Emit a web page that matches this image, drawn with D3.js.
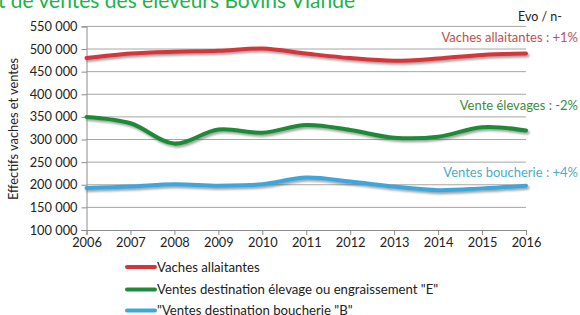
<!DOCTYPE html>
<html>
<head>
<meta charset="utf-8">
<script src="https://cdn.jsdelivr.net/npm/d3@7"></script>
<style>
  body { margin: 0; background: #fff; }
  svg { display: block; font-family: Lato, "Open Sans", sans-serif; }
</style>
</head>
<body>
<svg id="chart"></svg>
<script>
/* Effectifs vaches allaitantes et ventes, 2006-2016 */

const width = 580, height = 315;

const years = [2006, 2007, 2008, 2009, 2010, 2011, 2012, 2013, 2014, 2015, 2016];
const vaches   = [480000, 490000, 494000, 496000, 501000, 490000, 480000, 474000, 479000, 487000, 490000];
const elevage  = [350000, 336000, 291000, 322000, 315000, 332000, 321000, 304000, 306000, 327000, 320000];
const boucherie= [193000, 196000, 201000, 198000, 201000, 216000, 207000, 196000, 188000, 192000, 198000];
const yTicks = [100000, 150000, 200000, 250000, 300000, 350000, 400000, 450000, 500000, 550000];

const seriesNames = ["Vaches allaitantes",
  "Ventes destination élevage ou engraissement \"E\"",
  "\"Ventes destination boucherie \"B\""];
const seriesColors = ["#d6343a", "#1f8b38", "#3ba7dc"];
const notes = ["Vaches allaitantes : +1%", "Vente élevages : -2%", "Ventes boucherie : +4%"];
const noteColors = ["#c0504d", "#3d8b3d", "#4bacc6"];

const series = [vaches, elevage, boucherie];

const svg = d3.select("#chart").attr("width", width).attr("height", height);

// drop shadow under the curves
const defs = svg.append("defs");
const f = defs.append("filter").attr("id", "shadow")
  .attr("x", "-5%").attr("y", "-50%").attr("width", "110%").attr("height", "200%");
f.append("feDropShadow").attr("dx", 1.5).attr("dy", 2).attr("stdDeviation", 1.3)
  .attr("flood-color", "#555").attr("flood-opacity", 0.55);

const x = d3.scaleLinear().domain([2006, 2016]).range([86.5, 526]);
const y = d3.scaleLinear().domain([100000, 550000]).range([230, 26.4]);

const fmt = v => d3.format(",")(v).replace(/,/g, " ");

// title (cut off at the top, as in the source image)
svg.append("text")
  .attr("x", 355).attr("y", 8)
  .attr("text-anchor", "end")
  .attr("fill", "#22b24c")
  .style("font-size", "21px")
  .text("Evolution des effectifs et de ventes des éleveurs Bovins Viande");

// gridlines
svg.append("g").selectAll("line").data(yTicks.slice(1)).join("line")
  .attr("x1", x(2006)).attr("x2", x(2016))
  .attr("y1", d => y(d)).attr("y2", d => y(d))
  .attr("stroke", "#a6a6a6").attr("stroke-width", 1);

// y axis
const yAxis = svg.append("g").attr("transform", `translate(${x(2006)},0)`)
  .call(d3.axisLeft(y).tickValues(yTicks).tickFormat(fmt).tickSize(5).tickPadding(4));
yAxis.select(".domain").attr("stroke", "#8c8c8c");
yAxis.selectAll(".tick line").attr("stroke", "#8c8c8c");
yAxis.selectAll("text").attr("fill", "#222").style("font-size", "12.8px")
  .style("font-family", "Lato, sans-serif");

// x axis
const xAxis = svg.append("g").attr("transform", `translate(0,${y(100000)})`)
  .call(d3.axisBottom(x).tickValues(years).tickFormat(d3.format("d")).tickSize(5).tickPadding(3));
xAxis.select(".domain").attr("stroke", "#8c8c8c");
xAxis.selectAll(".tick line").attr("stroke", "#8c8c8c");
xAxis.selectAll("text").attr("fill", "#222").style("font-size", "12.8px")
  .style("font-family", "Lato, sans-serif");

// y axis title
svg.append("text")
  .attr("transform", "translate(18,129) rotate(-90)")
  .attr("text-anchor", "middle")
  .attr("fill", "#222")
  .style("font-size", "12.8px")
  .text("Effectifs vaches et ventes");

// curves
const line = d3.line()
  .x((d, i) => x(years[i]))
  .y(d => y(d))
  .curve(d3.curveCatmullRom.alpha(0.5));

svg.append("g").selectAll("path").data(series).join("path")
  .attr("d", line)
  .attr("fill", "none")
  .attr("stroke", (d, i) => seriesColors[i])
  .attr("stroke-width", 4)
  .attr("stroke-linecap", "round")
  .attr("filter", "url(#shadow)");

// annotations
svg.append("text").attr("x", 562).attr("y", 21).attr("text-anchor", "end")
  .attr("fill", "#222").style("font-size", "12.5px").text("Evo / n-");
const noteY = [42, 110, 177];
svg.append("g").selectAll("text").data(notes).join("text")
  .attr("x", 578).attr("y", (d, i) => noteY[i])
  .attr("text-anchor", "end")
  .attr("fill", (d, i) => noteColors[i])
  .style("font-size", "13px")
  .text(d => d);

// legend
const legY = [267, 289.5, 310.5];
const leg = svg.append("g").selectAll("g").data(seriesNames).join("g")
  .attr("transform", (d, i) => `translate(127,${legY[i]})`);
leg.append("line").attr("x1", 0).attr("x2", 28)
  .attr("stroke", (d, i) => seriesColors[i]).attr("stroke-width", 4)
  .attr("stroke-linecap", "round");
leg.append("text").attr("x", 30).attr("dy", "0.35em")
  .attr("fill", "#222").style("font-size", "13.2px")
  .text(d => d);
</script>
</body>
</html>
